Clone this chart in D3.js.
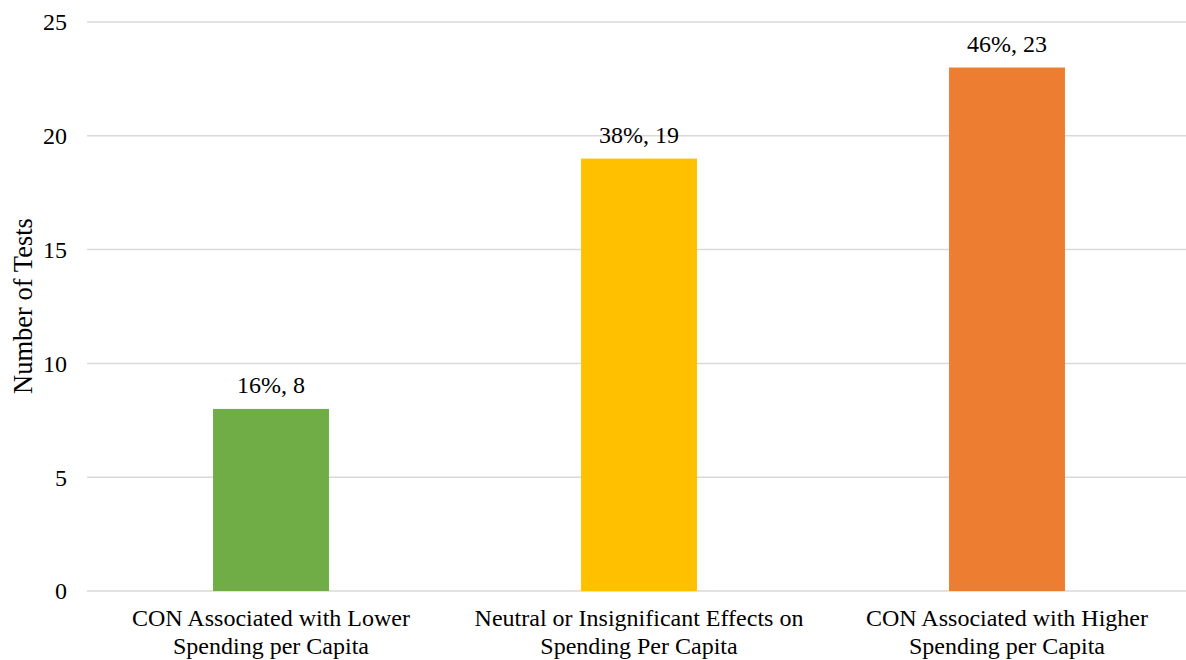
<!DOCTYPE html>
<html><head><meta charset="utf-8">
<script src="https://cdn.jsdelivr.net/npm/d3@7"></script>
<style>body{margin:0;background:#fff}svg{display:block}text{font-family:"Liberation Serif","Times New Roman",serif;fill:#000}</style>
</head><body><svg id="c" width="1186" height="660"></svg>
<script>
const categories = [["CON Associated with Lower","Spending per Capita"],["Neutral or Insignificant Effects on","Spending Per Capita"],["CON Associated with Higher","Spending per Capita"]];
const values = [8, 19, 23];
const dataLabels = ["16%, 8", "38%, 19", "46%, 23"];
const colors = ["#70ad47", "#ffc000", "#ed7d31"];
const yTicks = [0, 5, 10, 15, 20, 25];
const yTitle = "Number of Tests";

const svg = d3.select("#c");
const x = d3.scaleBand().domain(d3.range(values.length)).range([87, 1191]).paddingInner(0.685).paddingOuter(0.3425);
const y = d3.scaleLinear().domain([0, 25]).range([591, 22]);

svg.append("g").selectAll("line").data(yTicks).join("line")
  .attr("x1", 87).attr("x2", 1186).attr("y1", d => y(d)).attr("y2", d => y(d))
  .attr("stroke", "#d9d9d9").attr("stroke-width", 1.5);

svg.append("g").selectAll("text").data(yTicks).join("text")
  .attr("x", 67).attr("y", d => y(d)).attr("dy", "0.35em").attr("text-anchor", "end")
  .attr("font-size", 24).text(d => d);

svg.append("g").selectAll("rect").data(values).join("rect")
  .attr("x", (d, i) => x(i)).attr("width", x.bandwidth())
  .attr("y", d => y(d)).attr("height", d => y(0) - y(d))
  .attr("fill", (d, i) => colors[i]);

svg.append("g").selectAll("text").data(values).join("text")
  .attr("x", (d, i) => x(i) + x.bandwidth() / 2).attr("y", d => y(d) - 16)
  .attr("text-anchor", "middle").attr("font-size", 24).text((d, i) => dataLabels[i]);

const xl = svg.append("g").selectAll("text").data(categories).join("text")
  .attr("text-anchor", "middle").attr("font-size", 24)
  .attr("transform", (d, i) => `translate(${x(i) + x.bandwidth() / 2},0)`);
xl.selectAll("tspan").data(d => d).join("tspan")
  .attr("x", 0).attr("y", (d, j) => 626 + j * 28).text(d => d);

svg.append("text").attr("transform", "translate(32,306) rotate(-90)")
  .attr("text-anchor", "middle").attr("font-size", 26.5).text(yTitle);
</script></body></html>
